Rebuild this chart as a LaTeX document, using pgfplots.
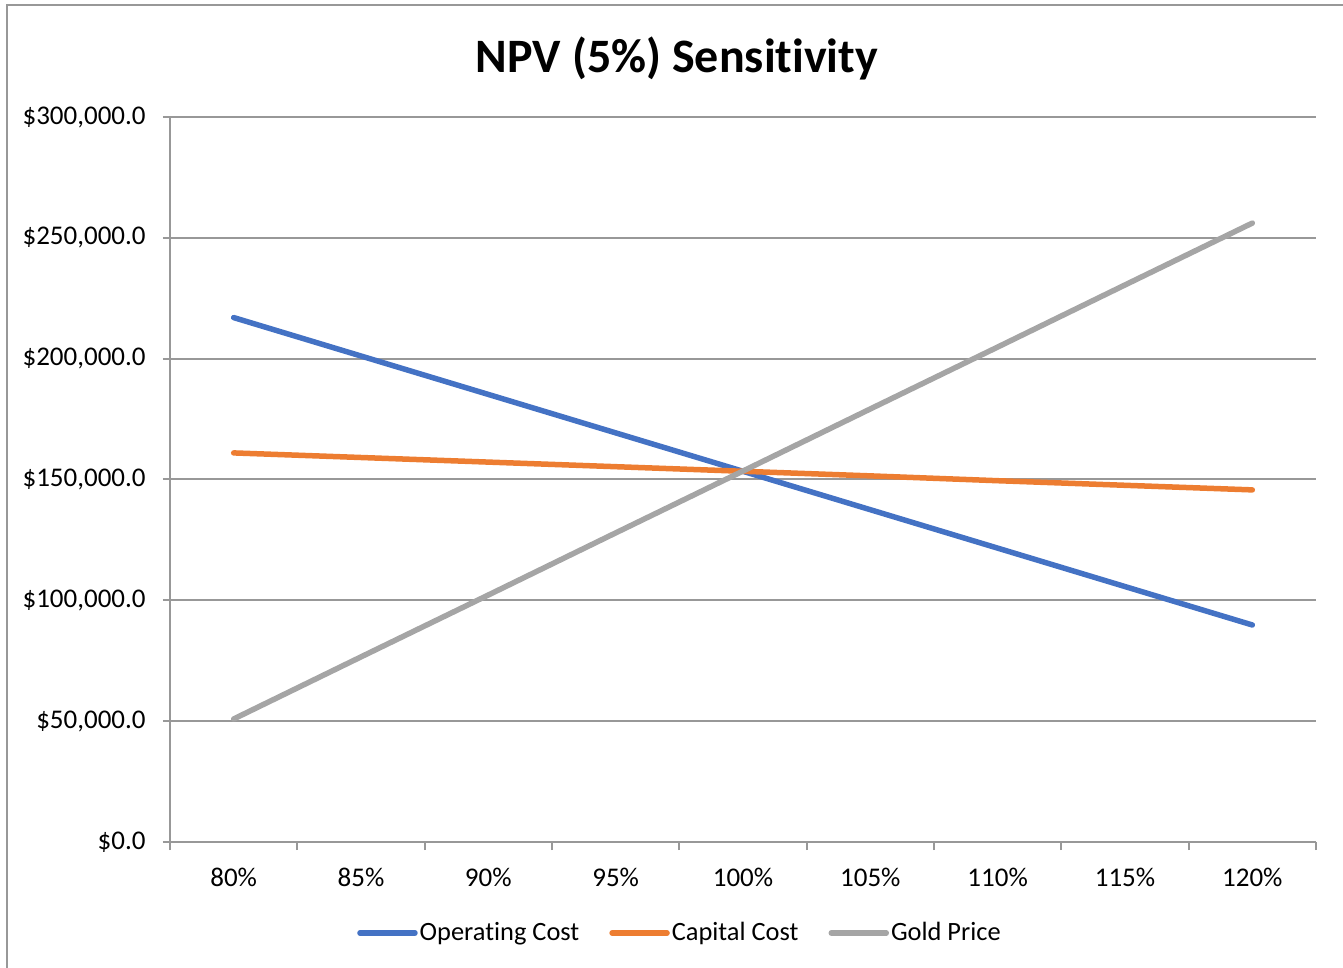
\documentclass[border=0pt]{standalone}
\usepackage{fontspec}
\setmainfont{Carlito}[Ligatures={NoCommon}]
\usepackage{pgfplots}
\pgfplotsset{compat=1.18}

\definecolor{opblue}{RGB}{68,114,196}
\definecolor{caporange}{RGB}{237,125,49}
\definecolor{goldgray}{RGB}{165,165,165}
\definecolor{gridgray}{RGB}{152,152,152}

\begin{document}
\begin{tikzpicture}
  % page = 1343 x 968 px, 1px = 0.5pt, origin at the plot area's lower left
  \path[use as bounding box] (-85pt,-63pt) rectangle (586.5pt,421pt);
  \draw[gridgray, line width=1pt] (-81.5pt,-70pt) -- (-81.5pt,418.5pt) -- (600pt,418.5pt);

  \node[font=\bfseries\fontsize{24}{28}\selectfont] at (253.5pt,392pt) {NPV (5\%) Sensitivity};

  \begin{axis}[
      at={(0pt,0pt)}, anchor=south west,
      scale only axis,
      width=573pt, height=362.5pt,
      xmin=0.5, xmax=9.5,
      ymin=0, ymax=300000,
      scaled y ticks=false,
      axis x line*=bottom,
      axis y line*=left,
      axis line style={gridgray, line width=1pt},
      tick align=outside,
      xtick={1,...,9},
      xticklabels={80\%,85\%,90\%,95\%,100\%,105\%,110\%,115\%,120\%},
      minor xtick={0.5,1.5,...,9.5},
      major x tick style={draw=none},
      minor x tick style={gridgray, line width=1pt},
      minor tick length=4pt,
      ytick={0,50000,...,300000},
      yticklabels={\$0.0,\$50{,}000.0,\$100{,}000.0,\$150{,}000.0,\$200{,}000.0,\$250{,}000.0,\$300{,}000.0},
      major y tick style={gridgray, line width=1pt},
      major tick length=3.5pt,
      ymajorgrids,
      grid style={gridgray, line width=1pt},
      tick label style={font=\fontsize{13.5}{16}\selectfont, inner sep=0pt},
      xticklabel style={anchor=base, yshift=-18.5pt},
      yticklabel style={anchor=east, xshift=-8.5pt},
      legend columns=-1,
      legend style={
          at={(0.445,-0.1255)}, anchor=center,
          draw=none, fill=none,
          font=\fontsize{13.2}{16}\selectfont,
          /tikz/every even column/.append style={column sep=14pt},
          nodes={inner sep=1pt}},
      legend image code/.code={\draw[#1, line cap=round] (0pt,0pt) -- (27.5pt,0pt);},
      every axis plot/.append style={line width=2.75pt, line cap=round, mark=none},
    ]
    \addplot[opblue] coordinates {
        (1,217000) (2,201100) (3,185200) (4,169300) (5,153400)
        (6,137500) (7,121600) (8,105700) (9,89800)
      };
    \addplot[caporange] coordinates {
        (1,161000) (2,159100) (3,157200) (4,155300) (5,153400)
        (6,151500) (7,149500) (8,147600) (9,145700)
      };
    \addplot[goldgray] coordinates {
        (1,50900) (2,76600) (3,102200) (4,127900) (5,153500)
        (6,179200) (7,204800) (8,230500) (9,256100)
      };
    \legend{Operating Cost, Capital Cost, Gold Price}
  \end{axis}
\end{tikzpicture}
\end{document}
